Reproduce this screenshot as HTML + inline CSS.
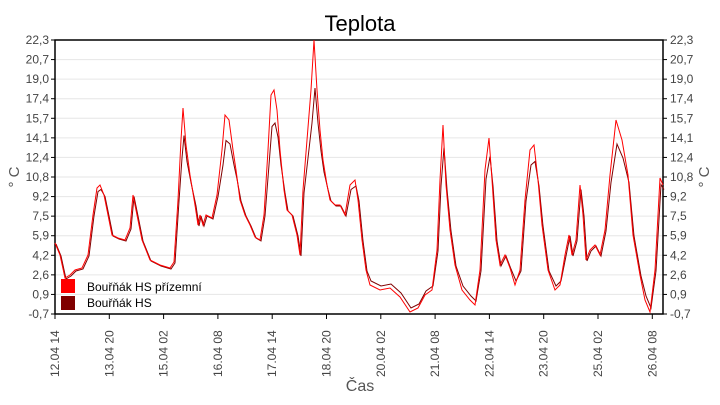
<!DOCTYPE html>
<html><head><meta charset="utf-8"><style>
body{margin:0;background:#fff;}
svg{font-family:"Liberation Sans",sans-serif;}
</style></head><body>
<svg id="s" width="720" height="400" xmlns="http://www.w3.org/2000/svg">
<rect width="720" height="400" fill="#fff"/>
<text x="360" y="31" font-size="22" text-anchor="middle" fill="#000">Teplota</text>
<g id="grid"></g>
<rect x="55" y="40" width="608" height="274" fill="none" stroke="#000" stroke-width="1.5"/>
<polyline id="dark" fill="none" stroke="#800000" stroke-width="1"/>
<polyline id="red" fill="none" stroke="#ff0000" stroke-width="1"/>
<rect x="61" y="279" width="14" height="14" fill="#ff0000"/>
<rect x="61" y="296" width="14" height="14" fill="#800000"/>
<text x="87" y="291" font-size="12" fill="#000">Bouřňák HS přízemní</text>
<text x="87" y="307" font-size="12" fill="#000">Bouřňák HS</text>
<text x="360" y="391" font-size="16" text-anchor="middle" fill="#555">Čas</text>
<text transform="translate(19,177) rotate(-90)" font-size="15" text-anchor="middle" fill="#555">° C</text>
<text transform="translate(709,177) rotate(-90)" font-size="15" text-anchor="middle" fill="#555">° C</text>
</svg>
<script>
var ns="http://www.w3.org/2000/svg",g=document.getElementById("grid");
function el(t,a,txt){var e=document.createElementNS(ns,t);for(var k in a)e.setAttribute(k,a[k]);if(txt)e.textContent=txt;g.appendChild(e);return e;}
var labs=["-0,7","0,9","2,6","4,2","5,9","7,5","9,2","10,8","12,4","14,1","15,7","17,4","19,0","20,7","22,3"];
for(var i=0;i<15;i++){var y=314-i*274/14;
 if(i>0&&i<14)el("line",{x1:55,x2:663,y1:y,y2:y,stroke:"#e6e6e6","stroke-width":1});
 el("line",{x1:51,x2:55,y1:y,y2:y,stroke:"#000"});el("line",{x1:663,x2:667,y1:y,y2:y,stroke:"#000"});
 el("text",{x:49,y:y+4,"font-size":12,"text-anchor":"end",fill:"#444"},labs[i]);
 el("text",{x:670,y:y+4,"font-size":12,fill:"#444"},labs[i]);}
var xl=["12.04 14","13.04 20","15.04 02","16.04 08","17.04 14","18.04 20","20.04 02","21.04 08","22.04 14","23.04 20","25.04 02","26.04 08"];
for(var i=0;i<12;i++){var x=55+i*54.3;
 el("line",{x1:x,x2:x,y1:314,y2:319,stroke:"#000"});
 el("text",{transform:"translate("+(x+4)+",377) rotate(-90)","font-size":12,fill:"#444"},xl[i]);}
var p=[55,243,60,255,65,278,70,275,75,270,82,268,88,255,93,215,97,188,100,185,104,195,108,215,112,235,118,238,125,240,130,228,133,195,137,215,142,240,150,260,160,265,170,268,174,262,178,200,181,140,183,108,186,145,190,175,195,205,198,225,200,215,203,225,206,215,212,218,217,195,222,150,225,115,229,120,233,150,236,170,240,200,245,215,250,225,255,237,260,240,264,215,268,150,271,95,274,90,277,110,280,150,284,190,287,210,292,215,297,235,300,255,303,190,307,140,311,90,314,40,317,90,320,130,323,160,327,185,330,200,335,205,340,205,345,215,350,185,355,180,358,200,362,240,366,270,370,285,380,290,390,288,400,297,410,312,418,308,425,295,432,290,437,250,440,180,443,125,446,185,450,230,455,265,462,290,470,300,475,305,480,270,485,170,489,138,492,180,496,240,500,265,505,255,510,268,515,285,520,270,525,200,530,150,534,145,538,180,542,225,548,270,555,290,560,285,565,255,569,235,572,255,576,240,580,185,583,215,586,260,590,250,595,245,600,255,605,230,610,175,616,120,622,140,628,175,633,235,640,275,645,300,650,312,655,270,660,178,663,185];
var r=[],d=[];
for(var i=0;i<p.length;i+=2){var x=p[i],y=p[i+1];r.push(x+","+y);
 var yd=y<200?y+(200-y)*0.3:y+ (y>280?-4:1);d.push((x+1)+","+yd.toFixed(1));}
document.getElementById("red").setAttribute("points",r.join(" "));
document.getElementById("dark").setAttribute("points",d.join(" "));
</script>
</body></html>
